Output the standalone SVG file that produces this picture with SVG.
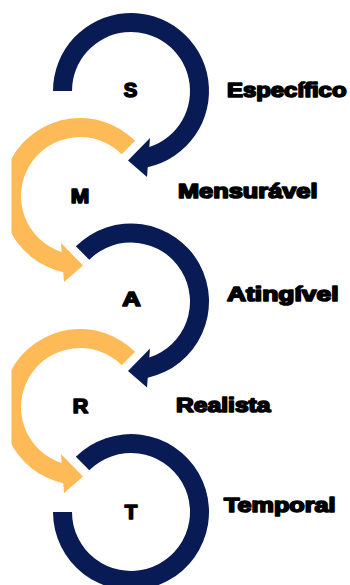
<svg xmlns="http://www.w3.org/2000/svg" width="350" height="585" viewBox="0 0 350 585">
<style>
.navy{fill:#081b54}
.gold{fill:#feba57}
.lbl{font-family:"Liberation Sans","DejaVu Sans",Arial,sans-serif;font-weight:bold;font-size:19.5px;fill:#000;stroke:#000;stroke-width:1.6;stroke-linejoin:round}
.ltr{text-anchor:middle}
</style>
<defs>
<path id="arrowStart180" d="M -59,0 A 59 59 0 1 1 18.3,56.1 L 19,47 L -3,69.5 L 16,86 L 16.76,76.18 A 78 78 0 1 0 -78,0 Z"/>
<path id="arrowStart225" d="M -41.72,-41.72 A 59 59 0 1 1 18.3,56.1 L 19,47 L -3,69.5 L 16,86 L 16.76,76.18 A 78 78 0 1 0 -55.15,-55.15 Z"/>
<path id="ringOpen" d="M -41.72,-41.72 A 59 59 0 1 1 -59,0 L -78,0 A 78 78 0 1 0 -55.15,-55.15 Z"/>
<clipPath id="leftClip"><rect x="11.5" y="0" width="340" height="585"/></clipPath>
</defs>
<g id="connectors">
<use href="#arrowStart180" class="navy" transform="translate(131,91)"/>
<g clip-path="url(#leftClip)">
<use href="#arrowStart225" class="gold" transform="translate(80,196) scale(-1,1)"/>
</g>
<use href="#arrowStart225" class="navy" transform="translate(131,301.5)"/>
<g clip-path="url(#leftClip)">
<use href="#arrowStart225" class="gold" transform="translate(80,407) scale(-1,1)"/>
</g>
<use href="#ringOpen" class="navy" transform="translate(131,512)"/>
</g>
<g id="node-S">
<text class="lbl ltr" x="130.5" y="97" textLength="13.5" lengthAdjust="spacingAndGlyphs">S</text>
<text class="lbl" x="227" y="97" textLength="119.5" lengthAdjust="spacingAndGlyphs">Específico</text>
</g>
<g id="node-M">
<text class="lbl ltr" x="80" y="203" textLength="18.5" lengthAdjust="spacingAndGlyphs">M</text>
<text class="lbl" x="178" y="198" textLength="139.5" lengthAdjust="spacingAndGlyphs">Mensurável</text>
</g>
<g id="node-A">
<text class="lbl ltr" x="131.5" y="306" textLength="18.5" lengthAdjust="spacingAndGlyphs">A</text>
<text class="lbl" x="227" y="301" textLength="111.5" lengthAdjust="spacingAndGlyphs">Atingível</text>
</g>
<g id="node-R">
<text class="lbl ltr" x="80.5" y="413" textLength="15.5" lengthAdjust="spacingAndGlyphs">R</text>
<text class="lbl" x="176" y="412" textLength="94.5" lengthAdjust="spacingAndGlyphs">Realista</text>
</g>
<g id="node-T">
<text class="lbl ltr" x="131" y="519" textLength="12.5" lengthAdjust="spacingAndGlyphs">T</text>
<text class="lbl" x="224" y="512" textLength="111.5" lengthAdjust="spacingAndGlyphs">Temporal</text>
</g>
</svg>
